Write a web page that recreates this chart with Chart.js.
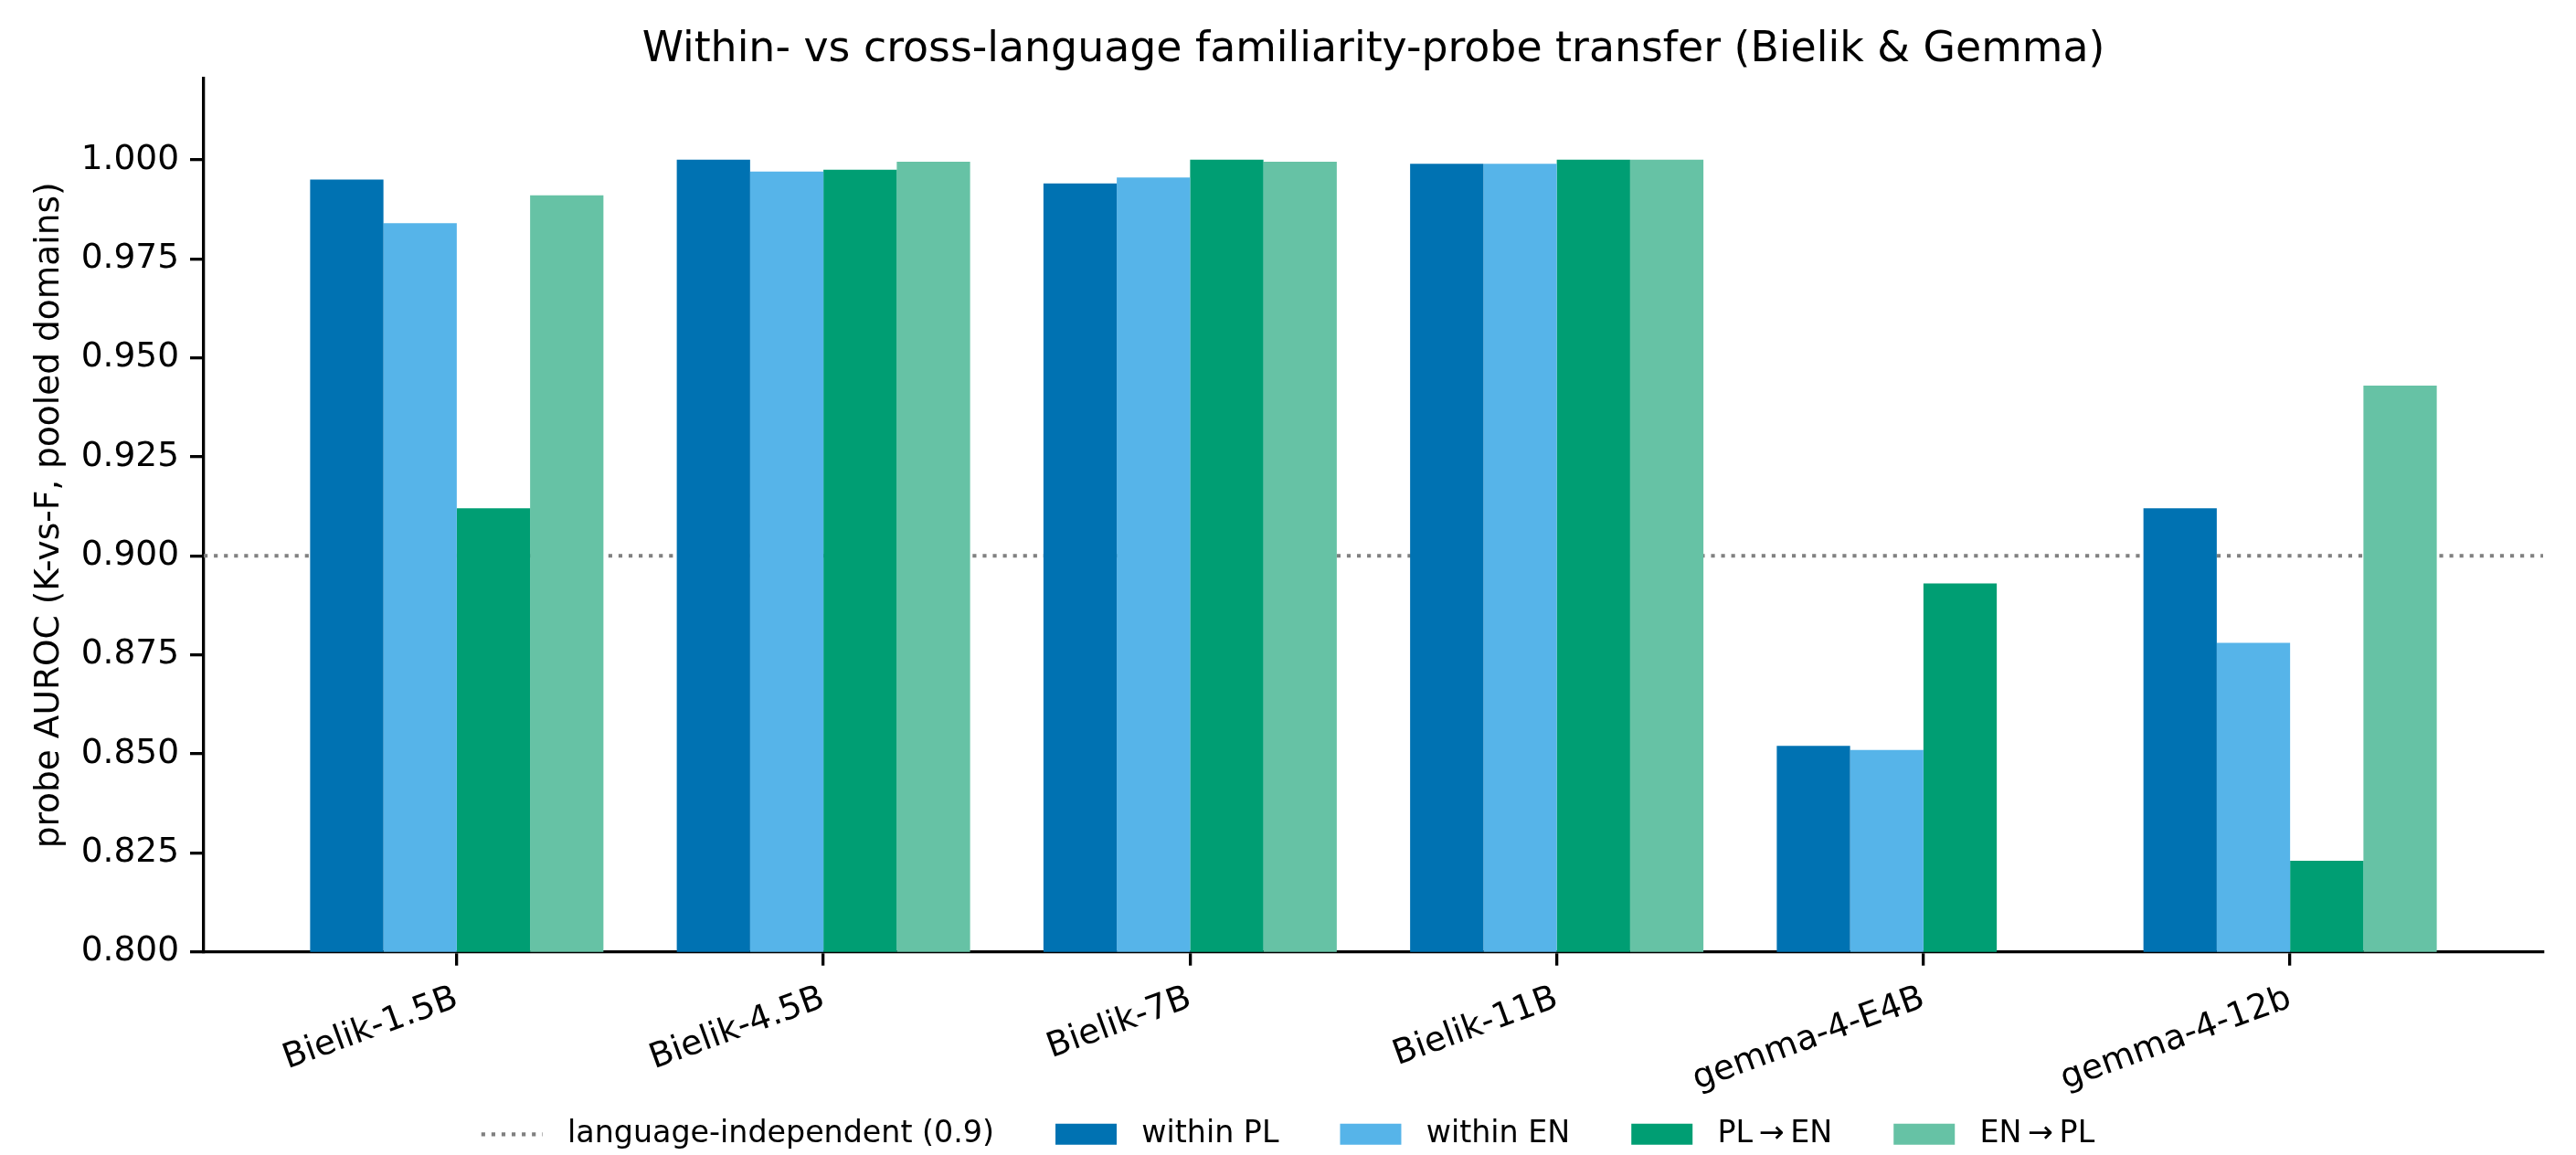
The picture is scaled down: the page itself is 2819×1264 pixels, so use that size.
<!DOCTYPE html>
<html>
<head>
<meta charset="utf-8">
<script src="https://cdn.jsdelivr.net/npm/chart.js@4.4.1/dist/chart.umd.min.js"></script>
<style>
  html, body { margin: 0; padding: 0; background: #ffffff; }
  #wrap { width: 2819px; height: 1264px; }
</style>
</head>
<body>
<div id="wrap"><canvas id="c" width="2819" height="1264"></canvas></div>
<script>
// ---------------- data ----------------
const categories = ["Bielik-1.5B", "Bielik-4.5B", "Bielik-7B", "Bielik-11B", "gemma-4-E4B", "gemma-4-12b"];
const withinPL = [0.995, 1.000, 0.994, 0.999, 0.852, 0.912];
const withinEN = [0.984, 0.997, 0.9955, 0.999, 0.851, 0.878];
const plToEn   = [0.912, 0.9975, 1.000, 1.000, 0.893, 0.823];
const enToPl   = [0.991, 0.9995, 0.9995, 1.000, null, 0.943];
const seriesLabels = ["within PL", "within EN", "PL\u2009\u2192\u2009EN", "EN\u2009\u2192\u2009PL"];
const thresholdValue = 0.9;
const thresholdLabel = "language-independent (0.9)";
const yTickValues = [0.800, 0.825, 0.850, 0.875, 0.900, 0.925, 0.950, 0.975, 1.000];
const titleText = "Within- vs cross-language familiarity-probe transfer (Bielik & Gemma)";
const yAxisLabel = "probe AUROC (K-vs-F, pooled domains)";

// ---------------- styling ----------------
const X_MIN = -0.69, X_MAX = 5.69;
const Y_MIN = 0.8, Y_MAX = 1.0205;
const colors = ["#0072B2", "#56B4E9", "#009E73", "#66C2A5"];
const GRAY = "#808080";
const SPINE = 3.3;

Chart.defaults.font.family = "'DejaVu Sans', sans-serif";
Chart.defaults.color = "#000000";

const seriesValues = [withinPL, withinEN, plToEn, enToPl];
const barDatasets = seriesValues.map((vals, s) => ({
  type: "bar",
  label: seriesLabels[s],
  data: vals.map((v, i) => ({ x: i, y: v })),
  backgroundColor: colors[s],
  borderWidth: 0,
  categoryPercentage: 0.8,
  barPercentage: 1.0,
  order: 0
}));

const lineDataset = {
  type: "line",
  label: thresholdLabel,
  data: [{ x: X_MIN, y: thresholdValue }, { x: X_MAX, y: thresholdValue }],
  borderColor: GRAY,
  borderWidth: 4.17,
  borderDash: [4.17, 6.9],
  pointRadius: 0,
  fill: false,
  order: 5
};

const chart = new Chart(document.getElementById("c"), {
  data: { datasets: [lineDataset, ...barDatasets] },
  options: {
    responsive: false,
    devicePixelRatio: 1,
    animation: false,
    layout: { padding: { left: 36, right: 36, top: 0, bottom: -4 } },
    plugins: {
      tooltip: { enabled: false },
      title: {
        display: true,
        fullSize: false,
        text: titleText,
        font: { size: 45.8, weight: "normal" },
        color: "#000",
        padding: { top: 27.5, bottom: 3.5 }
      },
      legend: {
        position: "bottom",
        align: "center",
        labels: {
          usePointStyle: true,
          pointStyleWidth: 67,
          boxHeight: 23,
          padding: 67,
          color: "#000",
          font: { size: 33.3 },
          sort: (a, b) => a.datasetIndex - b.datasetIndex,
          generateLabels(ch) {
            const items = Chart.defaults.plugins.legend.labels.generateLabels(ch);
            items.forEach(it => {
              const ds = ch.data.datasets[it.datasetIndex];
              it.text = " " + it.text;
              if (ds.type === "line") {
                it.pointStyle = "line";
                it.lineDash = [4.17, 6.9];
                it.strokeStyle = GRAY;
                it.fillStyle = GRAY;
                it.lineWidth = 4.17;
                it.lineCap = "butt";
              } else {
                it.pointStyle = "rect";
                it.lineWidth = 0;
                it.fillStyle = ds.backgroundColor;
                it.strokeStyle = ds.backgroundColor;
              }
            });
            return items;
          }
        }
      }
    },
    scales: {
      x: {
        type: "linear",
        min: X_MIN,
        max: X_MAX,
        offset: false,
        afterBuildTicks(axis) { axis.ticks = categories.map((c, i) => ({ value: i })); },
        afterFit(axis) {
          axis.height = 116;
          // let the rotated labels extend below the axis box (as in the reference)
          axis._computeLabelArea = () => undefined;
        },
        grid: { display: true, offset: false, drawOnChartArea: false, drawTicks: true, tickLength: 15, color: "#000", lineWidth: SPINE },
        border: { display: true, color: "#000", width: SPINE },
        ticks: {
          autoSkip: false,
          minRotation: 20,
          maxRotation: 20,
          padding: 14,
          color: "#000",
          font: { size: 37.5 },
          callback: (v, i) => categories[i]
        }
      },
      y: {
        type: "linear",
        min: Y_MIN,
        max: Y_MAX,
        afterBuildTicks(axis) { axis.ticks = yTickValues.map(v => ({ value: v })); },
        afterFit(axis) { axis.width = 187; },
        grid: { display: true, offset: false, drawOnChartArea: false, drawTicks: true, tickLength: 15, color: "#000", lineWidth: SPINE },
        border: { display: true, color: "#000", width: SPINE },
        ticks: {
          padding: 12,
          color: "#000",
          font: { size: 37.5 },
          callback: v => Number(v).toFixed(3)
        },
        title: {
          display: true,
          text: yAxisLabel,
          color: "#000",
          font: { size: 37.5 },
          padding: { top: -4, bottom: 0 }
        }
      }
    }
  }
});
</script>
</body>
</html>
